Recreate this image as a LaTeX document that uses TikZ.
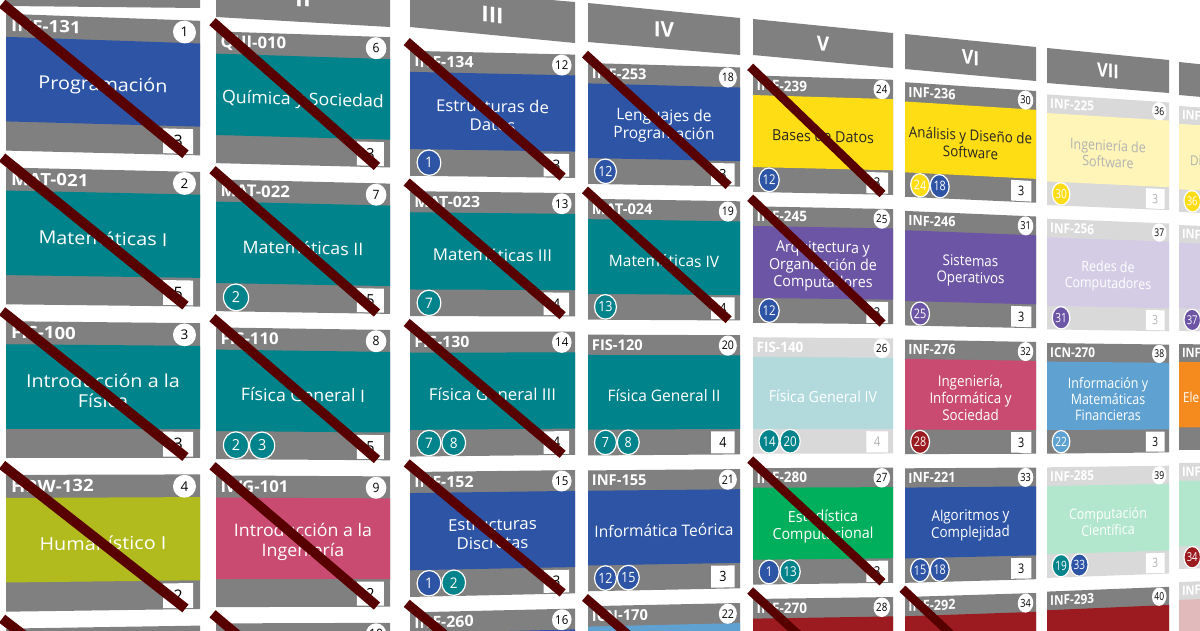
\documentclass[tikz,border=0pt]{standalone}
\usepackage{fontspec}
\usepackage{etoolbox}
\setmainfont{Open Sans}
\usetikzlibrary{positioning}
\definecolor{hdrgray}{HTML}{808080}
\definecolor{hdrlight}{HTML}{D9D9D9}
\definecolor{cblue}{HTML}{2E54A6}
\definecolor{cteal}{HTML}{00838B}
\definecolor{colive}{HTML}{B2BB1E}
\definecolor{cpink}{HTML}{C94B72}
\definecolor{cyellow}{HTML}{FFDD15}
\definecolor{cpurple}{HTML}{6C55A5}
\definecolor{cgreen}{HTML}{00AF5B}
\definecolor{cdred}{HTML}{9B1B20}
\definecolor{clblue}{HTML}{5FA2D2}
\definecolor{corange}{HTML}{F58A1F}
\definecolor{crossred}{HTML}{580000}

\def\stlock{lock}
\def\stdone{done}
\def\darkcyellow{}

\tikzset{
  g cs/u/.store in=\gu,
  g cs/f/.store in=\gf,
  persp/.style={yslant=\sl, xscale=\sx, yscale=\sy},
  ptext/.style={yslant=\sl, xscale=\tx, yscale=\sy},
  semlabel/.style={text=white, inner sep=0pt, font=\bfseries\fontsize{24}{24}\selectfont},
  codetext/.style={text=white, anchor=west, inner sep=0pt, font=\bfseries\fontsize{17}{17}\selectfont},
  numtag/.style={circle, fill=white, inner sep=0pt, minimum size=23pt, text=black, font=\fontsize{13.5}{13.5}\selectfont},
  nametext/.style={align=center, inner sep=0pt, font=\fontsize{18}{20.5}\selectfont},
  pretag/.style={circle, draw=white, line width=1.2pt, inner sep=0pt, minimum size=28pt, text=white, font=\fontsize{16}{16}\selectfont},
  credbox/.style={fill=white, inner sep=0pt, minimum width=30pt, minimum height=25pt, font=\fontsize{16}{16}\selectfont},
  crossline/.style={draw=crossred, line width=\lw pt}
}

% u: across the semester column, f: down the rows (1 = one row)
\tikzdeclarecoordinatesystem{g}{%
  \tikzset{g cs/.cd, u=0, f=0, #1}%
  \pgfmathsetmacro\gx{\cxL+(\gu)*(\cxR-\cxL)}%
  \pgfmathsetmacro\gy{(1-(\gu))*(\caL+\cpL*(\crow+(\gf)))+(\gu)*(\caR+\cpR*(\crow+(\gf)))}%
  \pgfpoint{\gx pt}{-\gy pt}%
}

\newcommand\setcol[7]{%
  \def\ccol{#1}\def\cxL{#2}\def\cxR{#3}\def\caL{#4}\def\cpL{#5}\def\caR{#6}\def\cpR{#7}%
  \pgfmathsetmacro\sx{(\cxR-\cxL)/194}%
  \pgfmathsetmacro\tx{1.1*\sx}%
  \pgfmathsetmacro\sy{(\cpL+\cpR)/307.4}%
  \pgfmathsetmacro\lw{5.5+4.5*\sx}}

\newcommand\band[5]{%
  \pgfmathsetmacro\sl{-((#3)-(#1))/(\cxR-\cxL)}%
  \fill[hdrgray] (\cxL,#1) -- (\cxR,#3) -- (\cxR,#4) -- (\cxL,#2) -- cycle;
  \ifblank{#5}{}{\node[semlabel, ptext] (sem-\ccol) at ({(\cxL+\cxR)/2},{(#1+#2+#3+#4)/4}) {#5};}}

% row, code, number, name, colour, prerequisites, credits, state
\newcommand\course[8]{%
  \def\crow{#1}\def\cstate{#8}%
  \pgfmathsetmacro\sl{-((\caR+\cpR*(#1+0.45))-(\caL+\cpL*(#1+0.45)))/(\cxR-\cxL)}%
  \ifx\cstate\stlock
    \colorlet{hdc}{hdrlight}\colorlet{bdc}{#5!30!white}\colorlet{crc}{black!30}%
    \ifcsname dark#5\endcsname\colorlet{ntc}{black!30}\else\colorlet{ntc}{white}\fi
  \else
    \colorlet{hdc}{hdrgray}\colorlet{bdc}{#5}\colorlet{crc}{black}%
    \ifcsname dark#5\endcsname\colorlet{ntc}{black!85}\else\colorlet{ntc}{white}\fi
  \fi
  \fill[hdc] (g cs:u=0,f=0) -- (g cs:u=1,f=0) -- (g cs:u=1,f=0.89) -- (g cs:u=0,f=0.89) -- cycle;
  \fill[bdc] (g cs:u=0,f=0.15) -- (g cs:u=1,f=0.15) -- (g cs:u=1,f=0.70) -- (g cs:u=0,f=0.70) -- cycle;
  \ifblank{#2}{}{\node[codetext, ptext] (code-\ccol-#1) at (g cs:u=0.025,f=0.075) {#2};}
  \ifblank{#3}{}{\node[numtag, persp] (num-\ccol-#1) at (g cs:u=0.92,f=0.078) {#3};}
  \ifblank{#4}{}{\node[nametext, ptext, text=ntc] (name-\ccol-#1) at (g cs:u=0.5,f=0.45) {#4};}
  \ifblank{#6}{}{%
    \foreach \pn/\pc [count=\pk from 0] in {#6}{%
      \node[pretag, persp, fill=\pc] (pre-\ccol-#1-\pk) at (g cs:u={0.115+0.15*\pk},f=0.795) {\pn};}}%
  \ifblank{#7}{}{\node[credbox, persp, text=crc] (cr-\ccol-#1) at (g cs:u=0.8875,f=0.80) {#7};}
  \ifx\cstate\stdone
    \draw[crossline] (g cs:u=-0.02,f=-0.065) -- (g cs:u=0.925,f=0.885);
  \fi}

\begin{document}
\begin{tikzpicture}[x=1pt,y=-1pt]
\useasboundingbox (0,0) rectangle (1200,630);
\clip (0,0) rectangle (1200,630);
\fill[white] (0,0) rectangle (1200,630);

% semester I
\setcol{i}{6}{200}{13.8}{153.7}{20.8}{151.2}
\band{-50}{6}{-45}{8}{}
\course{0}{INF-131}{1}{Programación}{cblue}{}{3}{done}
\course{1}{MAT-021}{2}{Matemáticas I}{cteal}{}{5}{done}
\course{2}{FIS-100}{3}{Introducción a la\\Física}{cteal}{}{3}{done}
\course{3}{HRW-132}{4}{Humanístico I}{colive}{}{2}{done}
\course{4}{}{}{}{cblue}{}{}{done}

% semester II
\setcol{ii}{216}{390}{31.4}{148.0}{37.2}{146.4}
\band{-30}{17}{-20}{27}{II}
\course{0}{QUI-010}{6}{Química y Sociedad}{cteal}{}{3}{done}
\course{1}{MAT-022}{7}{Matemáticas II}{cteal}{2/cteal}{5}{done}
\course{2}{FIS-110}{8}{Física General I}{cteal}{2/cteal,3/cteal}{5}{done}
\course{3}{IWG-101}{9}{Introducción a la\\Ingeniería}{cpink}{}{2}{done}
\course{4}{}{10}{}{cblue}{}{}{done}

% semester III
\setcol{iii}{410}{575}{50.8}{140.4}{54.6}{138.5}
\band{-12}{27}{2}{43}{III}
\course{0}{INF-134}{12}{Estructuras de\\Datos}{cblue}{1/cblue}{3}{done}
\course{1}{MAT-023}{13}{Matemáticas III}{cteal}{7/cteal}{4}{done}
\course{2}{FIS-130}{14}{Física General III}{cteal}{7/cteal,8/cteal}{4}{done}
\course{3}{INF-152}{15}{Estructuras\\Discretas}{cblue}{1/cblue,2/cteal}{3}{done}
\course{4}{INF-260}{16}{}{cblue}{}{}{done}

% semester IV
\setcol{iv}{588}{740}{63}{135.8}{67.4}{133.9}
\band{3}{42}{18}{55}{IV}
\course{0}{INF-253}{18}{Lenguajes de\\Programación}{cblue}{12/cblue}{3}{done}
\course{1}{MAT-024}{19}{Matemáticas IV}{cteal}{13/cteal}{4}{done}
\course{2}{FIS-120}{20}{Física General II}{cteal}{7/cteal,8/cteal}{4}{open}
\course{3}{INF-155}{21}{Informática Teórica}{cblue}{12/cblue,15/cblue}{3}{open}
\course{4}{ICN-170}{22}{}{clblue}{}{}{done}

% semester V
\setcol{v}{753}{893}{75.4}{130.9}{79.8}{129.3}
\band{19}{55}{33}{68}{V}
\course{0}{INF-239}{24}{Bases de Datos}{cyellow}{12/cblue}{3}{done}
\course{1}{INF-245}{25}{Arquitectura y\\Organización de\\Computadores}{cpurple}{12/cblue}{3}{done}
\course{2}{FIS-140}{26}{Física General IV}{cteal}{14/cteal,20/cteal}{4}{lock}
\course{3}{INF-280}{27}{Estadística\\Computacional}{cgreen}{1/cblue,13/cteal}{3}{done}
\course{4}{INF-270}{28}{}{cdred}{}{}{done}

% semester VI
\setcol{vi}{905}{1036}{82.2}{128.7}{91}{125.5}
\band{34}{69}{47}{81}{VI}
\course{0}{INF-236}{30}{Análisis y Diseño de\\Software}{cyellow}{24/cyellow,18/cblue}{3}{open}
\course{1}{INF-246}{31}{Sistemas\\Operativos}{cpurple}{25/cpurple}{3}{open}
\course{2}{INF-276}{32}{Ingeniería,\\Informática y\\Sociedad}{cpink}{28/cdred}{3}{open}
\course{3}{INF-221}{33}{Algoritmos y\\Complejidad}{cblue}{15/cblue,18/cblue}{3}{open}
\course{4}{INF-292}{34}{}{cdred}{}{}{done}

% semester VII
\setcol{vii}{1047}{1169}{94.4}{124.3}{102.4}{121.1}
\band{48}{83}{60}{93}{VII}
\course{0}{INF-225}{36}{Ingeniería de\\Software}{cyellow}{30/cyellow}{3}{lock}
\course{1}{INF-256}{37}{Redes de\\Computadores}{cpurple}{31/cpurple}{3}{lock}
\course{2}{ICN-270}{38}{Información y\\Matemáticas\\Financieras}{clblue}{22/clblue}{3}{open}
\course{3}{INF-285}{39}{Computación\\Científica}{cgreen}{19/cteal,33/cblue}{3}{lock}
\course{4}{INF-293}{40}{}{cdred}{}{}{open}

% semester VIII, cut by the right edge
\setcol{viii}{1179}{1294}{106}{119}{114}{116}
\band{62}{95}{74}{105}{}
\course{0}{INF}{}{}{cyellow}{36/cyellow}{}{lock}
\node[nametext, ptext, anchor=west, text=black!30] (name-viii-0) at (g cs:u=0.095,f=0.45) {Di};
\course{1}{INF}{}{}{cpurple}{37/cpurple}{}{lock}
\course{2}{INF}{}{}{corange}{}{}{open}
\node[nametext, ptext, anchor=west, text=white] (name-viii-2) at (g cs:u=0.035,f=0.45) {Ele};
\course{3}{INF}{}{}{cgreen}{34/cdred}{}{lock}
\course{4}{INF}{}{}{cdred}{}{}{lock}
\end{tikzpicture}
\end{document}
